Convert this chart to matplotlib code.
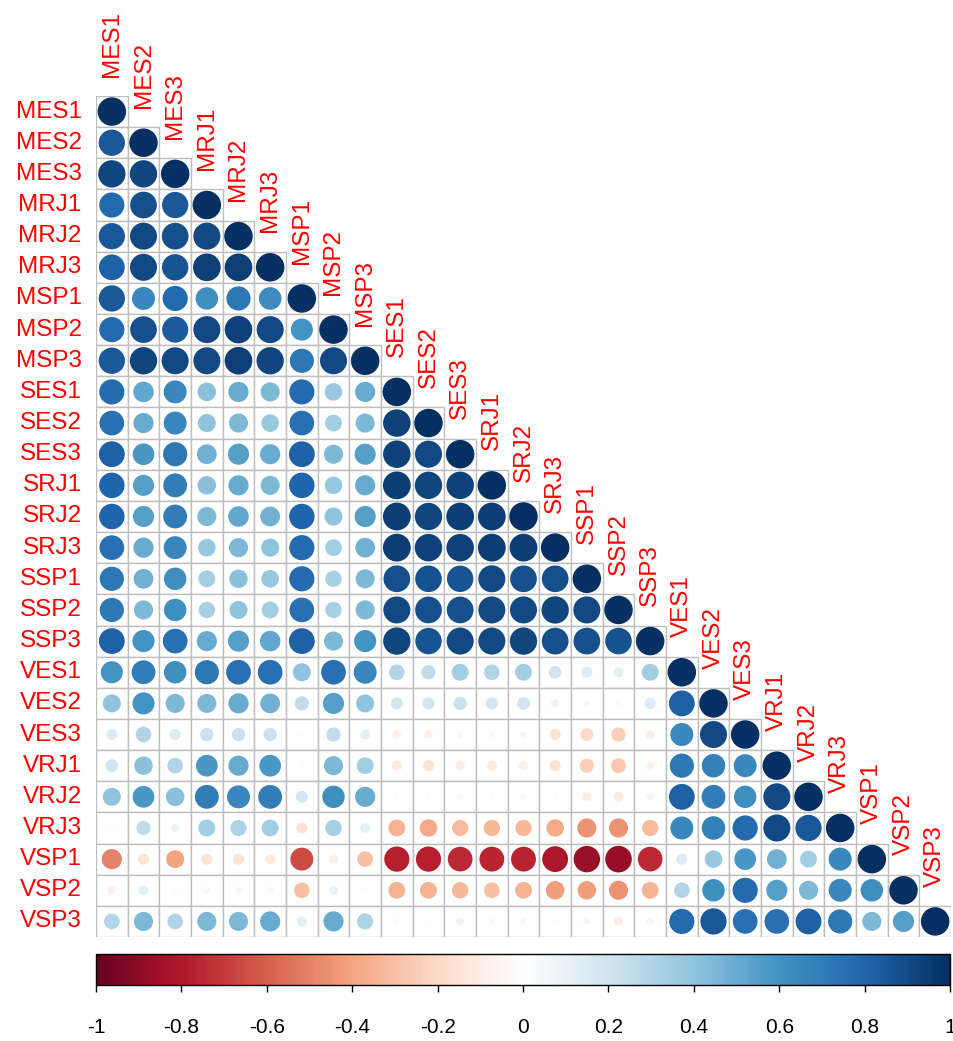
import numpy as np
import matplotlib
import matplotlib.pyplot as plt
from matplotlib.colors import LinearSegmentedColormap, Normalize
from matplotlib.patches import Rectangle

plt.rcParams['font.family'] = ['Liberation Sans', 'DejaVu Sans']

labels = ["MES1", "MES2", "MES3", "MRJ1", "MRJ2", "MRJ3", "MSP1", "MSP2", "MSP3",
          "SES1", "SES2", "SES3", "SRJ1", "SRJ2", "SRJ3", "SSP1", "SSP2", "SSP3",
          "VES1", "VES2", "VES3", "VRJ1", "VRJ2", "VRJ3", "VSP1", "VSP2", "VSP3"]

# lower triangle of the correlation matrix, one list per row
r_MES1 = [1]
r_MES2 = [0.85, 1]
r_MES3 = [0.92, 0.92, 1]
r_MRJ1 = [0.78, 0.88, 0.85, 1]
r_MRJ2 = [0.85, 0.90, 0.88, 0.90, 1]
r_MRJ3 = [0.82, 0.90, 0.86, 0.94, 0.94, 1]
r_MSP1 = [0.85, 0.65, 0.78, 0.62, 0.72, 0.63, 1]
r_MSP2 = [0.78, 0.88, 0.84, 0.90, 0.93, 0.90, 0.60, 1]
r_MSP3 = [0.85, 0.92, 0.90, 0.90, 0.94, 0.92, 0.72, 0.90, 1]
r_SES1 = [0.78, 0.52, 0.65, 0.42, 0.50, 0.45, 0.78, 0.38, 0.50, 1]
r_SES2 = [0.75, 0.50, 0.65, 0.40, 0.45, 0.38, 0.75, 0.35, 0.45, 0.93, 1]
r_SES3 = [0.82, 0.58, 0.72, 0.48, 0.55, 0.50, 0.82, 0.45, 0.55, 0.93, 0.90, 1]
r_SRJ1 = [0.80, 0.55, 0.70, 0.42, 0.50, 0.45, 0.80, 0.38, 0.50, 0.95, 0.92, 0.93, 1]
r_SRJ2 = [0.80, 0.55, 0.70, 0.45, 0.52, 0.48, 0.80, 0.40, 0.55, 0.95, 0.92, 0.95, 0.95, 1]
r_SRJ3 = [0.75, 0.50, 0.65, 0.38, 0.45, 0.40, 0.78, 0.35, 0.48, 0.95, 0.93, 0.93, 0.95,
          0.95, 1]
r_SSP1 = [0.72, 0.48, 0.62, 0.35, 0.42, 0.38, 0.78, 0.33, 0.45, 0.88, 0.87, 0.86, 0.90,
          0.88, 0.88, 1]
r_SSP2 = [0.72, 0.45, 0.62, 0.33, 0.40, 0.35, 0.75, 0.33, 0.45, 0.90, 0.88, 0.88, 0.90,
          0.90, 0.92, 0.90, 1]
r_SSP3 = [0.82, 0.60, 0.75, 0.50, 0.55, 0.52, 0.82, 0.45, 0.60, 0.92, 0.86, 0.90, 0.90,
          0.92, 0.88, 0.88, 0.87, 1]
r_VES1 = [0.60, 0.70, 0.62, 0.72, 0.75, 0.75, 0.40, 0.75, 0.65, 0.30, 0.25, 0.35, 0.30,
          0.35, 0.20, 0.15, 0.12, 0.35, 1]
r_VES2 = [0.40, 0.60, 0.45, 0.45, 0.50, 0.48, 0.25, 0.55, 0.40, 0.18, 0.18, 0.22, 0.18,
          0.20, 0.08, 0.04, 0.03, 0.15, 0.82, 1]
r_VES3 = [0.15, 0.30, 0.15, 0.22, 0.22, 0.22, 0.02, 0.25, 0.12, -0.08, -0.08, -0.05, -0.04,
          -0.06, -0.15, -0.20, -0.25, -0.10, 0.65, 0.90, 1]
r_VRJ1 = [0.20, 0.42, 0.30, 0.58, 0.50, 0.58, -0.02, 0.45, 0.35, -0.12, -0.15, -0.10, -0.12,
          -0.10, -0.15, -0.25, -0.27, -0.08, 0.72, 0.68, 0.65, 1]
r_VRJ2 = [0.40, 0.58, 0.42, 0.70, 0.65, 0.70, 0.18, 0.62, 0.50, -0.02, -0.02, 0.05, -0.02,
          0.05, -0.02, -0.10, -0.12, 0.06, 0.82, 0.70, 0.62, 0.90, 1]
r_VRJ3 = [0.02, 0.25, 0.08, 0.35, 0.32, 0.35, -0.15, 0.33, 0.12, -0.35, -0.38, -0.32, -0.33,
          -0.33, -0.38, -0.45, -0.45, -0.32, 0.65, 0.68, 0.78, 0.90, 0.85, 1]
r_VSP1 = [-0.50, -0.15, -0.40, -0.15, -0.15, -0.12, -0.65, -0.10, -0.30, -0.78, -0.78, -0.75,
          -0.76, -0.76, -0.82, -0.86, -0.87, -0.75, 0.15, 0.38, 0.58, 0.48, 0.35, 0.65, 1]
r_VSP2 = [-0.08, 0.12, 0.02, 0.05, 0.05, 0.05, -0.30, 0.10, 0.02, -0.35, -0.35, -0.33, -0.30,
          -0.35, -0.42, -0.42, -0.45, -0.35, 0.30, 0.62, 0.78, 0.55, 0.45, 0.65, 0.62, 1]
r_VSP3 = [0.30, 0.45, 0.30, 0.45, 0.45, 0.50, 0.12, 0.50, 0.32, 0.03, 0.01, 0.08, 0.04,
          0.05, -0.02, -0.06, -0.10, 0.06, 0.78, 0.85, 0.75, 0.75, 0.82, 0.72, 0.45, 0.55, 1]

rows = [r_MES1, r_MES2, r_MES3, r_MRJ1, r_MRJ2, r_MRJ3, r_MSP1, r_MSP2, r_MSP3,
        r_SES1, r_SES2, r_SES3, r_SRJ1, r_SRJ2, r_SRJ3, r_SSP1, r_SSP2, r_SSP3,
        r_VES1, r_VES2, r_VES3, r_VRJ1, r_VRJ2, r_VRJ3, r_VSP1, r_VSP2, r_VSP3]

cbar_ticks = [-1, -0.8, -0.6, -0.4, -0.2, 0, 0.2, 0.4, 0.6, 0.8, 1]
cbar_ticklabels = ["-1", "-0.8", "-0.6", "-0.4", "-0.2", "0", "0.2", "0.4", "0.6", "0.8", "1"]

n = len(labels)
corr = np.zeros((n, n))
for i, row in enumerate(rows):
    corr[i, :len(row)] = row

# corrplot-style RdBu (white centre)
cmap = LinearSegmentedColormap.from_list(
    "rdbu_cp", ["#67001F", "#B2182B", "#D6604D", "#F4A582", "#FDDBC7", "#FFFFFF",
                "#D1E5F0", "#92C5DE", "#4393C3", "#2166AC", "#053061"])
norm = Normalize(-1, 1)

W, H, DPI = 954, 1041, 100
fig = plt.figure(figsize=(W / DPI, H / DPI), dpi=DPI)
ax = fig.add_axes([96 / W, 1 - 937 / H, (951 - 96) / W, (937 - 96) / H])
ax.set_xlim(-0.5, n - 0.5)
ax.set_ylim(n - 0.5, -0.5)
ax.axis("off")

for i in range(n):
    for j in range(i + 1):
        ax.add_patch(Rectangle((j - 0.5, i - 0.5), 1, 1, fc="white", ec="#BEBEBE",
                               lw=1.0, zorder=1))

ii, jj = np.tril_indices(n)
vals = corr[ii, jj]
cell_px = (951 - 96) / n
diam_pt = 0.9 * np.sqrt(np.abs(vals)) * cell_px * 72 / DPI
ax.scatter(jj, ii, s=diam_pt ** 2, c=vals, cmap=cmap, norm=norm,
           edgecolors="none", zorder=3)

for i, lab in enumerate(labels):
    ax.text(-0.5 - 0.45, i, lab, ha="right", va="center", color="red", fontsize=17.5)
    ax.text(i, i - 0.5 - 0.62, lab, rotation=90, ha="center", va="bottom",
            color="red", fontsize=17.5)

# colour legend below the matrix
cax = fig.add_axes([96 / W, 1 - 985 / H, (950 - 96) / W, 31 / H])
sm = matplotlib.cm.ScalarMappable(norm=norm, cmap=cmap)
cb = fig.colorbar(sm, cax=cax, orientation="horizontal", ticks=cbar_ticks)
cb.ax.set_xticklabels(cbar_ticklabels)
cb.ax.tick_params(length=5, width=1, pad=19, labelsize=15)
cb.outline.set_linewidth(1)

fig.savefig("out.png", dpi=DPI)
